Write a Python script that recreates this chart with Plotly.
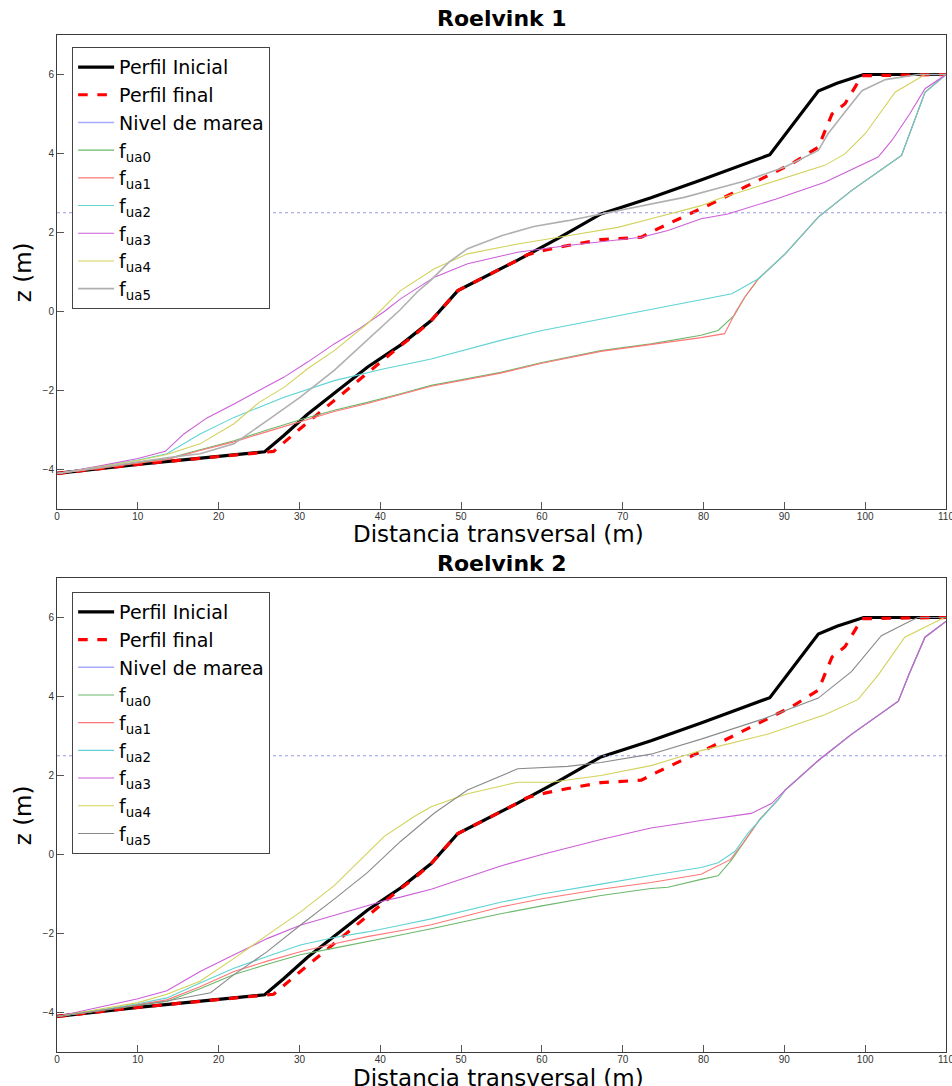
import plotly.graph_objects as go

# ---------------- data ----------------
x_inicial = [0, 5, 10, 15, 20, 25.7, 28, 31, 34.5, 38.4, 42.5, 46.3, 49.6, 53, 57, 62, 67.3, 73.5, 79.7, 88.2, 91, 94.2, 96.5, 99.8, 110]
z_inicial = [-4.1, -3.98, -3.87, -3.77, -3.67, -3.55, -3.15, -2.6, -2.04, -1.41, -0.85, -0.23, 0.53, 0.88, 1.3, 1.85, 2.47, 2.88, 3.33, 3.97, 4.72, 5.58, 5.78, 6.0, 6.0]

x_final = [0, 5, 10, 15, 20, 26.8, 30, 33, 36, 39, 42, 44.5, 46.3, 49.6, 53, 57, 58.2, 60.5, 63.2, 67.3, 72.3, 73.9, 77, 81, 85.9, 90.9, 94.2, 95.9, 97.5, 99.6, 110]
z_final = [-4.1, -3.98, -3.87, -3.77, -3.67, -3.54, -2.98, -2.47, -1.95, -1.45, -0.95, -0.55, -0.23, 0.53, 0.88, 1.3, 1.44, 1.56, 1.67, 1.82, 1.88, 2.05, 2.35, 2.73, 3.23, 3.74, 4.16, 5.0, 5.26, 5.97, 6.0]

x_marea = [0, 110]
z_marea = [2.5, 2.5]

# Roelvink 1
r1_fua0_x = [0, 5, 10, 13.6, 17.7, 21.9, 26, 30.1, 34.3, 38.4, 42.5, 46.3, 54.9, 60, 67.3, 73.5, 79.7, 81.8, 83.8, 85.1, 86.8, 90.1, 94.2, 98.3, 104.5, 107.4, 110]
r1_fua0_z = [-4.1, -3.97, -3.82, -3.73, -3.5, -3.27, -3.0, -2.74, -2.5, -2.3, -2.08, -1.87, -1.54, -1.29, -0.99, -0.82, -0.6, -0.48, -0.1, 0.36, 0.83, 1.46, 2.39, 3.06, 3.95, 5.55, 6.0]
r1_fua1_x = [0, 5, 10, 13.6, 17.7, 21.9, 26, 30.1, 34.3, 38.4, 42.5, 46.3, 54.9, 60, 67.3, 73.5, 79.7, 82.6, 84, 85.1, 86.8, 90.1, 94.2, 98.3, 104.5, 107.4, 110]
r1_fua1_z = [-4.1, -3.98, -3.84, -3.75, -3.52, -3.3, -3.04, -2.78, -2.53, -2.33, -2.1, -1.89, -1.56, -1.31, -1.01, -0.84, -0.66, -0.56, 0.0, 0.36, 0.83, 1.46, 2.39, 3.06, 3.95, 5.55, 6.0]
r1_fua2_x = [0, 5, 10, 13.6, 17.7, 21.9, 28.1, 34.3, 40.5, 46.3, 54.9, 60, 67.3, 73.5, 79.7, 83.5, 86.8, 90.1, 94.2, 98.3, 104.5, 107.4, 110]
r1_fua2_z = [-4.1, -3.93, -3.76, -3.6, -3.1, -2.68, -2.17, -1.75, -1.45, -1.2, -0.73, -0.48, -0.19, 0.07, 0.3, 0.45, 0.83, 1.46, 2.39, 3.06, 3.95, 5.55, 6.0]
r1_fua3_x = [0, 5, 10, 13.4, 15.7, 18.5, 21.9, 25, 28.1, 31, 34.3, 37.5, 40.5, 42.5, 46.7, 50.8, 57, 63.2, 67.3, 72.3, 75.6, 79.7, 83, 89, 95, 101.6, 103.3, 105.5, 107.4, 110]
r1_fua3_z = [-4.1, -3.92, -3.72, -3.54, -3.1, -2.7, -2.34, -2.0, -1.66, -1.28, -0.82, -0.42, 0.0, 0.32, 0.87, 1.21, 1.5, 1.67, 1.76, 1.88, 2.05, 2.35, 2.47, 2.85, 3.27, 3.91, 4.33, 5.0, 5.64, 6.0]
r1_fua4_x = [0, 5, 10, 13.6, 17.7, 21.9, 25, 28.1, 31, 34.3, 38.4, 42.5, 46.7, 50.8, 57, 63.2, 69.4, 73.5, 79.7, 81.8, 88, 95, 97.5, 100, 103.7, 107.4, 110]
r1_fua4_z = [-4.1, -3.93, -3.77, -3.62, -3.35, -2.84, -2.3, -1.92, -1.45, -0.99, -0.31, 0.53, 1.08, 1.46, 1.71, 1.92, 2.13, 2.35, 2.68, 2.85, 3.25, 3.7, 3.99, 4.5, 5.55, 6.0, 6.0]
r1_fua5_x = [0, 5, 10, 13.6, 17.7, 21.9, 26, 30.1, 34.3, 38.4, 42.5, 44.6, 46.3, 48.5, 50.8, 55, 59, 63.2, 67.3, 73.5, 77.6, 85, 90, 94.2, 95.4, 97.5, 99.6, 102.5, 106.6, 110]
r1_fua5_z = [-4.1, -3.95, -3.8, -3.7, -3.6, -3.35, -2.76, -2.17, -1.49, -0.73, 0.05, 0.5, 0.8, 1.25, 1.59, 1.92, 2.15, 2.3, 2.47, 2.71, 2.89, 3.3, 3.65, 4.08, 4.5, 5.05, 5.59, 5.87, 6.0, 6.0]

# Roelvink 2
r2_fua0_x = [0, 5, 10, 13.6, 17.7, 21.9, 26, 30.1, 34.3, 38.4, 42.5, 46.3, 54.9, 60, 67.3, 73.5, 75.6, 79.7, 81.8, 83.5, 84.9, 87, 89.2, 90.1, 94.2, 98.3, 104.1, 105.5, 107.4, 110]
r2_fua0_z = [-4.1, -3.97, -3.82, -3.72, -3.4, -3.04, -2.78, -2.54, -2.37, -2.21, -2.04, -1.88, -1.5, -1.3, -1.04, -0.86, -0.83, -0.63, -0.54, -0.13, 0.29, 0.9, 1.38, 1.63, 2.38, 3.04, 3.88, 4.6, 5.5, 5.9]
r2_fua1_x = [0, 5, 10, 13.6, 17.7, 21.9, 26, 30.1, 34.3, 38.4, 42.5, 46.3, 54.9, 60, 67.3, 73.5, 79.7, 83.3, 84.9, 87, 89.2, 90.1, 94.2, 98.3, 104.1, 105.5, 107.4, 110]
r2_fua1_z = [-4.1, -3.96, -3.8, -3.68, -3.35, -2.96, -2.7, -2.46, -2.26, -2.08, -1.93, -1.78, -1.33, -1.12, -0.88, -0.71, -0.5, -0.13, 0.29, 0.9, 1.38, 1.63, 2.38, 3.04, 3.88, 4.6, 5.5, 5.9]
r2_fua2_x = [0, 5, 10, 13.6, 17.7, 21.9, 26, 30.1, 34.3, 38.4, 42.5, 46.3, 54.9, 60, 67.3, 73.5, 79.7, 81.8, 83.9, 85.5, 89.2, 90.1, 94.2, 98.3, 104.1, 105.5, 107.4, 110]
r2_fua2_z = [-4.1, -3.95, -3.78, -3.63, -3.25, -2.88, -2.58, -2.29, -2.1, -1.96, -1.79, -1.63, -1.21, -1.0, -0.75, -0.53, -0.33, -0.21, 0.08, 0.54, 1.38, 1.63, 2.38, 3.04, 3.88, 4.6, 5.5, 5.9]
r2_fua3_x = [0, 5.3, 10, 13.6, 17.7, 21.9, 26, 30.1, 36.3, 40.5, 42.5, 46.3, 54.9, 60, 67.3, 73.5, 79.7, 85.9, 88.4, 90.1, 94.2, 98.3, 104.1, 105.5, 107.4, 110]
r2_fua3_z = [-4.1, -3.87, -3.65, -3.45, -2.96, -2.54, -2.13, -1.79, -1.42, -1.17, -1.08, -0.88, -0.29, 0.0, 0.38, 0.67, 0.86, 1.04, 1.29, 1.63, 2.38, 3.04, 3.88, 4.6, 5.5, 5.9]
r2_fua4_x = [0, 5, 10, 13.6, 17.7, 21.9, 26, 30.1, 34.3, 38.4, 40.5, 44.2, 46.3, 50.8, 57, 61.1, 67.3, 73.5, 79.7, 88, 95, 99.1, 101.6, 104.9, 108.7, 109.8, 110]
r2_fua4_z = [-4.1, -3.93, -3.75, -3.54, -3.21, -2.63, -2.04, -1.46, -0.79, 0.04, 0.46, 0.96, 1.21, 1.54, 1.83, 1.83, 2.0, 2.25, 2.63, 3.05, 3.54, 3.92, 4.54, 5.5, 5.89, 6.0, 6.0]
r2_fua5_x = [0, 5, 10, 13.6, 19, 21.9, 26, 30.1, 34.3, 38.4, 42.5, 46.7, 50.8, 57, 63.2, 67.3, 73.5, 79.7, 87.2, 94.2, 98.3, 102, 105.4, 106.5, 110]
r2_fua5_z = [-4.1, -3.96, -3.82, -3.71, -3.5, -3.04, -2.46, -1.79, -1.13, -0.46, 0.33, 1.05, 1.63, 2.17, 2.23, 2.33, 2.54, 2.92, 3.42, 3.96, 4.63, 5.54, 5.89, 6.0, 6.0]

fua_names = ["f<sub>ua0</sub>", "f<sub>ua1</sub>", "f<sub>ua2</sub>", "f<sub>ua3</sub>", "f<sub>ua4</sub>", "f<sub>ua5</sub>"]
fua_colors = ["#6cb86c", "#ff7676", "#5fd3d3", "#cc5fd8", "#d2d25a", "#a8a8a8"]
panel_titles = ["Roelvink 1", "Roelvink 2"]
x_ticks = [0, 10, 20, 30, 40, 50, 60, 70, 80, 90, 100, 110]
y_ticks = [-4, -2, 0, 2, 4, 6]

r1_fua = [(r1_fua0_x, r1_fua0_z), (r1_fua1_x, r1_fua1_z), (r1_fua2_x, r1_fua2_z),
          (r1_fua3_x, r1_fua3_z), (r1_fua4_x, r1_fua4_z), (r1_fua5_x, r1_fua5_z)]
r2_fua = [(r2_fua0_x, r2_fua0_z), (r2_fua1_x, r2_fua1_z), (r2_fua2_x, r2_fua2_z),
          (r2_fua3_x, r2_fua3_z), (r2_fua4_x, r2_fua4_z), (r2_fua5_x, r2_fua5_z)]

# ---------------- figure ----------------
fig = go.Figure()

def add_panel(idx, fua_sets, gray5):
    xa = "x" if idx == 1 else "x2"
    ya = "y" if idx == 1 else "y2"
    lg = "legend" if idx == 1 else "legend2"
    fig.add_trace(go.Scatter(x=x_inicial, y=z_inicial, mode="lines", name="Perfil Inicial",
                             line=dict(color="black", width=3.2), xaxis=xa, yaxis=ya, legend=lg))
    fig.add_trace(go.Scatter(x=x_final, y=z_final, mode="lines", name="Perfil final",
                             line=dict(color="#ff0000", width=3.2, dash="dash"), xaxis=xa, yaxis=ya, legend=lg))
    # tide level: dotted on the plot, solid sample in the legend
    fig.add_trace(go.Scatter(x=x_marea, y=z_marea, mode="lines", name="Nivel de marea",
                             line=dict(color="#9a9ae6", width=1.2, dash="dot"), xaxis=xa, yaxis=ya,
                             legend=lg, showlegend=False, legendgroup="marea%d" % idx))
    fig.add_trace(go.Scatter(x=[None], y=[None], mode="lines", name="Nivel de marea",
                             line=dict(color="#a8a8ff", width=1.6), xaxis=xa, yaxis=ya,
                             legend=lg, legendgroup="marea%d" % idx, hoverinfo="skip"))
    for k, (xs, zs) in enumerate(fua_sets):
        col = fua_colors[k]
        w = 1.1
        if k == 5:
            col = gray5
            w = 1.6 if idx == 1 else 1.1
        fig.add_trace(go.Scatter(x=xs, y=zs, mode="lines", name=fua_names[k],
                                 line=dict(color=col, width=w), xaxis=xa, yaxis=ya, legend=lg))

add_panel(1, r1_fua, "#b0b0b0")
add_panel(2, r2_fua, "#8a8a8a")

axis_common = dict(showline=True, mirror=True, linecolor="#3a3a3a", linewidth=1, automargin=False,
                   ticks="inside", ticklen=7, tickcolor="#555555", showgrid=False, zeroline=False,
                   tickfont=dict(family="Liberation Sans, Arial", size=10, color="#333333"))
x_extra = dict(ticklabeloverflow="allow", ticklabelstandoff=-2)

top_dom = [0.5339, 1.0]
bot_dom = [0.0, 0.4661]

legend_common = dict(xanchor="left", yanchor="top", bgcolor="white",
                     bordercolor="#444444", borderwidth=1, tracegroupgap=0, itemwidth=36,
                     font=dict(family="DejaVu Sans", size=19, color="black"))

fig.update_layout(
    width=952, height=1086, autosize=False,
    margin=dict(l=57, r=6, t=35, b=34, autoexpand=False),
    plot_bgcolor="white", paper_bgcolor="white",
    xaxis=dict(domain=[0, 1], range=[0, 110], tickvals=x_ticks, anchor="y", **axis_common, **x_extra),
    yaxis=dict(domain=top_dom, range=[-5, 7], tickvals=y_ticks, anchor="x", **axis_common),
    xaxis2=dict(domain=[0, 1], range=[0, 110], tickvals=x_ticks, anchor="y2", **axis_common, **x_extra),
    yaxis2=dict(domain=bot_dom, range=[-5, 7], tickvals=y_ticks, anchor="x2", **axis_common),
    legend=dict(x=0.017, y=0.988, **legend_common),
    legend2=dict(x=0.017, y=0.4523, **legend_common),
    showlegend=True,
)

title_font = dict(family="DejaVu Sans", size=22, color="black")
label_font = dict(family="DejaVu Sans", size=23, color="black")
ann = [
    dict(text="<b>" + panel_titles[0] + "</b>", x=0.5, y=1.0167, font=title_font),
    dict(text="<b>" + panel_titles[1] + "</b>", x=0.5, y=0.4808, font=title_font),
    dict(text="Distancia transversal (m)", x=0.497, y=0.5093, font=label_font),
    dict(text="Distancia transversal (m)", x=0.497, y=-0.0256, font=label_font),
    dict(text="z (m)", x=-0.038, y=0.767, font=label_font, textangle=-90),
    dict(text="z (m)", x=-0.038, y=0.233, font=label_font, textangle=-90),
]
for a in ann:
    fig.add_annotation(xref="paper", yref="paper", showarrow=False, xanchor="center", yanchor="middle", **a)

fig.write_html("out.html")
